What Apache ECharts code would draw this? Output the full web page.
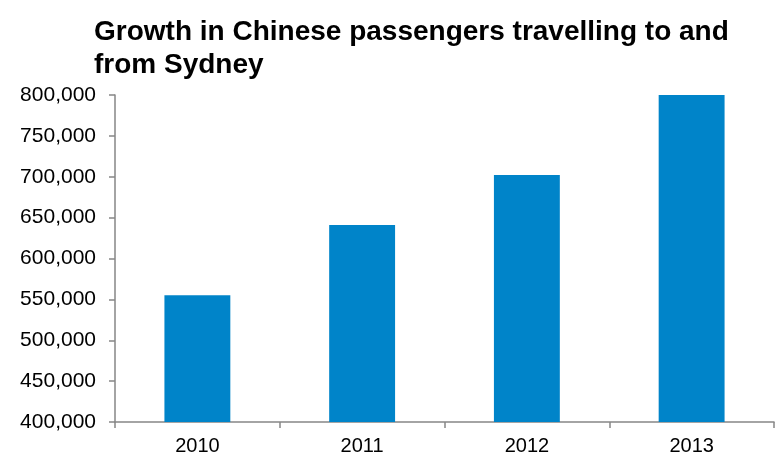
<!DOCTYPE html>
<html>
<head>
<meta charset="utf-8">
<script src="https://cdn.jsdelivr.net/npm/echarts@6/dist/echarts.min.js"></script>
<style>html,body{margin:0;padding:0;background:#fff;}#c{width:779px;height:457px;}</style>
</head>
<body>
<div id="c"></div>
<script>
const titleText = "Growth in Chinese passengers travelling to and\nfrom Sydney";
const categories = ["2010", "2011", "2012", "2013"];
const passengers = [555000, 641000, 702000, 800000];
const yTicks = { min: 400000, max: 800000, interval: 50000 };

const chart = echarts.init(document.getElementById('c'), null, { renderer: 'canvas' });
chart.setOption({
  animation: false,
  backgroundColor: '#ffffff',
  title: {
    text: titleText,
    left: 94,
    top: 16,
    padding: 0,
    textStyle: { fontFamily: 'Liberation Sans, Arial, sans-serif', fontWeight: 'bold', fontSize: 28, color: '#000', lineHeight: 33 }
  },
  grid: { left: 115, right: 5, top: 95, bottom: 35, containLabel: false },
  xAxis: {
    type: 'category',
    data: categories,
    axisLine: { lineStyle: { color: '#868686', width: 1.5 } },
    axisTick: { show: true, length: 6, lineStyle: { color: '#868686', width: 1.5 } },
    axisLabel: { fontFamily: 'Liberation Sans, Arial, sans-serif', fontSize: 20, color: '#000', margin: 14 }
  },
  yAxis: {
    type: 'value',
    min: yTicks.min, max: yTicks.max, interval: yTicks.interval,
    axisLine: { show: true, lineStyle: { color: '#868686', width: 1.5 } },
    axisTick: { show: true, length: 6, lineStyle: { color: '#868686', width: 1.5 } },
    splitLine: { show: false },
    axisLabel: {
      fontFamily: 'Liberation Sans, Arial, sans-serif', fontSize: 21, color: '#000', margin: 19,
      formatter: v => v.toLocaleString('en-US')
    }
  },
  series: [{
    type: 'bar',
    data: passengers,
    barWidth: '40%',
    itemStyle: { color: '#0084c9' }
  }]
});
</script>
</body>
</html>
